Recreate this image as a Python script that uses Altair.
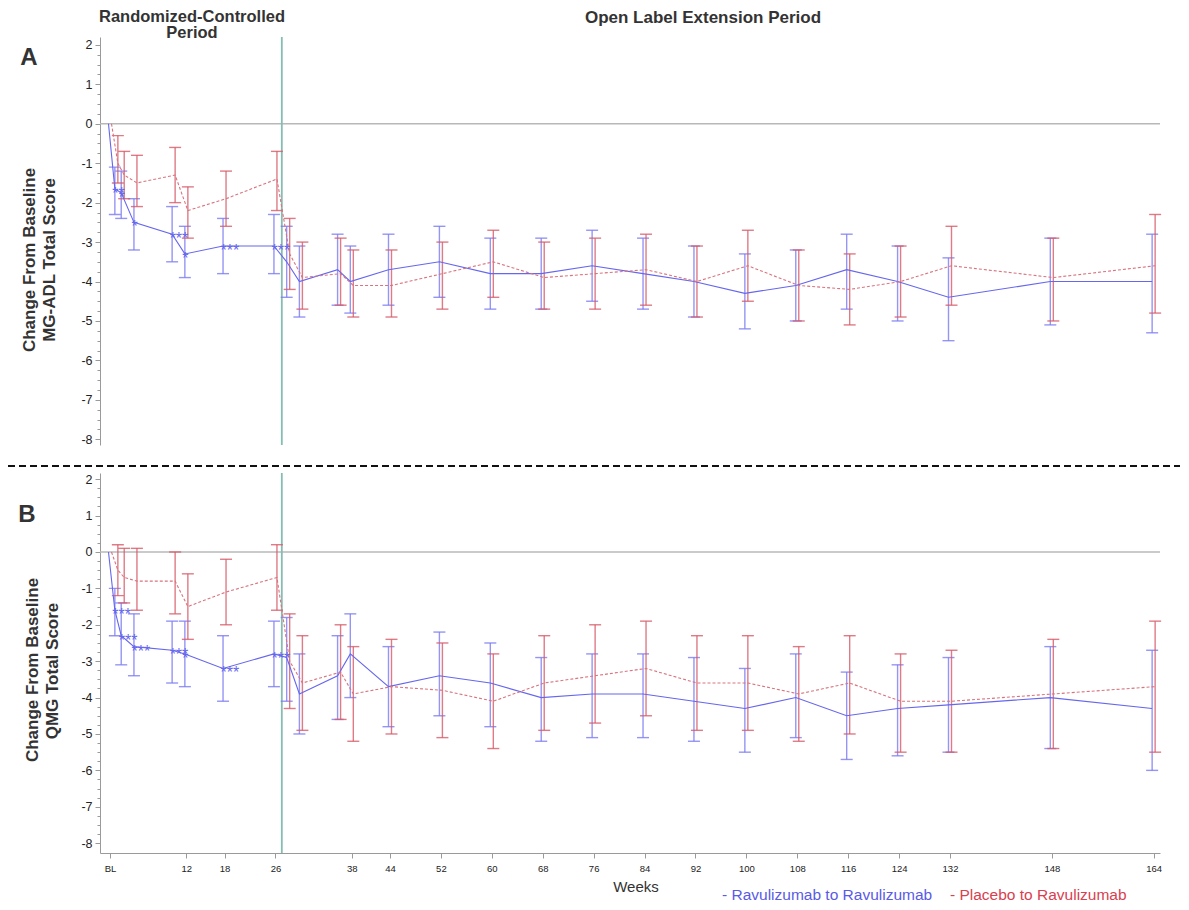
import altair as alt
import pandas as pd

# ---------------- data ----------------
weeks = [0, 1, 2, 4, 10, 12, 18, 26, 28, 30, 36, 38, 44, 52, 60, 68, 76, 84,
         92, 100, 108, 116, 124, 132, 148, 164]
bar_weeks = weeks[1:]
x_ticks = [0, 12, 18, 26, 38, 44, 52, 60, 68, 76, 84, 92, 100, 108, 116, 124,
           132, 148, 164]

# Panel A: MG-ADL
a_rav_mean = [0, -1.65, -1.75, -2.5, -2.8, -3.3, -3.1, -3.1, -3.5, -4.0, -3.7, -4.0,
              -3.7, -3.5, -3.8, -3.8, -3.6, -3.8, -4.0, -4.3, -4.1, -3.7, -4.0, -4.4,
              -4.0, -4.0]
a_rav_lo = [-2.3, -2.4, -3.2, -3.5, -3.9, -3.8, -3.8, -4.4, -4.9, -4.6, -4.8, -4.6,
            -4.4, -4.7, -4.7, -4.5, -4.7, -4.9, -5.2, -5.0, -4.7, -5.0, -5.5, -5.1, -5.3]
a_rav_hi = [-1.1, -1.2, -1.9, -2.1, -2.6, -2.4, -2.3, -2.6, -3.1, -2.8, -3.1, -2.8,
            -2.6, -2.9, -2.9, -2.7, -2.9, -3.1, -3.3, -3.2, -2.8, -3.1, -3.4, -2.9, -2.8]
a_pla_mean = [0, -1.0, -1.3, -1.5, -1.3, -2.2, -1.9, -1.4, -3.3, -3.9, -3.8, -4.1,
              -4.1, -3.8, -3.5, -3.9, -3.8, -3.7, -4.0, -3.6, -4.1, -4.2, -4.0, -3.6,
              -3.9, -3.6]
a_pla_lo = [-1.5, -1.9, -2.1, -2.0, -2.9, -2.6, -2.2, -4.2, -4.7, -4.6, -4.9, -4.9,
            -4.7, -4.4, -4.7, -4.7, -4.6, -4.9, -4.5, -5.0, -5.1, -4.9, -4.6, -5.0, -4.8]
a_pla_hi = [-0.3, -0.7, -0.8, -0.6, -1.6, -1.2, -0.7, -2.4, -3.0, -2.9, -3.2, -3.2,
            -3.0, -2.7, -3.0, -2.9, -2.8, -3.1, -2.7, -3.2, -3.3, -3.1, -2.6, -2.9, -2.3]

# Panel B: QMG
b_rav_mean = [0, -1.6, -2.3, -2.6, -2.7, -2.8, -3.2, -2.8, -2.9, -3.9, -3.4, -2.8,
              -3.7, -3.4, -3.6, -4.0, -3.9, -3.9, -4.1, -4.3, -4.0, -4.5, -4.3, -4.2,
              -4.0, -4.3]
b_rav_lo = [-2.3, -3.1, -3.4, -3.6, -3.7, -4.1, -3.7, -4.1, -5.0, -4.6, -4.0, -4.8,
            -4.5, -4.8, -5.2, -5.1, -5.1, -5.2, -5.5, -5.1, -5.7, -5.6, -5.5, -5.4, -6.0]
b_rav_hi = [-1.0, -1.4, -1.7, -1.9, -1.9, -2.3, -1.9, -1.8, -2.8, -2.3, -1.7, -2.6,
            -2.2, -2.5, -2.9, -2.8, -2.8, -2.9, -3.2, -2.8, -3.3, -3.1, -2.9, -2.6, -2.7]
b_pla_mean = [0, -0.5, -0.7, -0.8, -0.8, -1.5, -1.1, -0.7, -3.0, -3.6, -3.3, -3.9,
              -3.7, -3.8, -4.1, -3.6, -3.4, -3.2, -3.6, -3.6, -3.9, -3.6, -4.1, -4.1,
              -3.9, -3.7]
b_pla_lo = [-1.2, -1.4, -1.6, -1.7, -2.4, -2.0, -1.6, -4.3, -4.9, -4.6, -5.2, -5.0,
            -5.1, -5.4, -4.9, -4.7, -4.5, -4.9, -4.9, -5.2, -5.0, -5.5, -5.5, -5.4, -5.5]
b_pla_hi = [0.2, 0.1, 0.1, 0.0, -0.6, -0.2, 0.2, -1.7, -2.3, -2.0, -2.6, -2.4,
            -2.5, -2.8, -2.3, -2.0, -1.9, -2.3, -2.3, -2.6, -2.3, -2.8, -2.7, -2.4, -1.9]

# significance markers next to Ravulizumab points in the randomized period
sig_weeks = [1, 2, 4, 10, 12, 18, 26]
a_sig = ["**", "*", "*", "***", "*", "***", "***"]
b_sig = ["***", "***", "***", "***", "*", "***", "***"]

rc_end_week = 27
y_major = [-8, -7, -6, -5, -4, -3, -2, -1, 0, 1, 2]
y_minor = [-8 + 0.25 * i for i in range(41) if i % 4 != 0]

# ---------------- styling ----------------
W, H = 1060, 816
BLUE = "#6666ee"
BLUE_BAR = "#7a7af2"
RED = "#d8747e"
RED_BAR = "#d65a68"
TEAL = "#86bdb2"
TXT = "#333333"
AX = "#9a9a9a"
FONT = "Liberation Sans"

xs = alt.Scale(domain=[-1.57, 165.0], nice=False, zero=False)
ys_a = alt.Scale(domain=[-8.145, 2.2], range=[408, 0], nice=False, zero=False)
ys_b = alt.Scale(domain=[-8.27, 2.17], range=[816, 436], nice=False, zero=False)

xax = alt.Axis(values=x_ticks, labelExpr="datum.value === 0 ? 'BL' : datum.label",
               title=None, grid=False, tickSize=5, domainColor=AX,
               tickColor=AX, labelColor="#222222", labelFontSize=9.5,
               labelFont=FONT, labelPadding=5, labelFlush=False, labelOverlap=False)


def X():
    return alt.X("w:Q", scale=xs, axis=xax)


def panel(rav_mean, rav_lo, rav_hi, pla_mean, pla_lo, pla_hi, sig, ys):
    line_r = pd.DataFrame({"w": weeks, "m": rav_mean})
    line_p = pd.DataFrame({"w": weeks, "m": pla_mean})
    bar_r = pd.DataFrame({"w": bar_weeks, "lo": rav_lo, "hi": rav_hi})
    bar_p = pd.DataFrame({"w": bar_weeks, "lo": pla_lo, "hi": pla_hi})
    sig_df = pd.DataFrame({"w": sig_weeks,
                           "m": [rav_mean[weeks.index(w)] for w in sig_weeks],
                           "s": sig})
    dom = ys.domain
    frame = pd.DataFrame({"w": [rc_end_week], "top": [dom[1]], "bot": [dom[0]], "z": [0]})

    Y = lambda f: alt.Y(f, scale=ys, axis=None)

    major_axis = alt.Axis(values=y_major, labelExpr="'' + datum.value", orient="left",
                          title=None, grid=False, tickSize=5, domainColor=AX,
                          tickColor=AX, labelColor="#222222", labelFontSize=12.5,
                          labelFont=FONT, labelPadding=3, labelOverlap=False,
                          labelFlush=False)
    minor_axis = alt.Axis(values=y_minor, labels=False, orient="left", title=None,
                          grid=False, tickSize=3, domain=False, tickColor=AX)

    layers = []
    # zero reference line (carries the y axis)
    layers.append(
        alt.Chart(frame).mark_rule(color="#b8b8b8", strokeWidth=1.3).encode(
            y=alt.Y("z:Q", scale=ys, axis=major_axis), x=alt.value(0), x2=alt.value(W))
    )
    layers.append(
        alt.Chart(frame).mark_point(opacity=0).encode(
            y=alt.Y("z:Q", scale=ys, axis=minor_axis), x=alt.value(0))
    )
    # end of randomized period
    layers.append(
        alt.Chart(frame).mark_rule(color=TEAL, strokeWidth=1.8).encode(
            x=X(), y=Y("top:Q"), y2="bot:Q")
    )
    for bars, color, off in [(bar_r, BLUE_BAR, -1.5), (bar_p, RED_BAR, 1.5)]:
        layers.append(alt.Chart(bars).mark_rule(color=color, strokeWidth=1.4, opacity=0.8,
                                                xOffset=off).encode(
            x=X(), y=Y("lo:Q"), y2="hi:Q"))
        for f in ["lo:Q", "hi:Q"]:
            layers.append(alt.Chart(bars).mark_tick(color=color, orient="horizontal", size=12,
                                                    thickness=1.4, opacity=0.8,
                                                    xOffset=off).encode(
                x=X(), y=Y(f)))
    layers.append(alt.Chart(line_r).mark_line(color=BLUE, strokeWidth=1.1, xOffset=-1.5).encode(
        x=X(), y=Y("m:Q")))
    layers.append(alt.Chart(line_p).mark_line(color=RED, strokeWidth=1.1, strokeDash=[3, 2],
                                              xOffset=1.5).encode(
        x=X(), y=Y("m:Q")))
    layers.append(alt.Chart(sig_df).mark_text(color=BLUE, align="left", baseline="middle",
                                              fontSize=16, dx=-4, dy=5,
                                              font=FONT).encode(
        x=X(), y=Y("m:Q"), text="s:N"))
    return layers


lA = panel(a_rav_mean, a_rav_lo, a_rav_hi, a_pla_mean, a_pla_lo, a_pla_hi, a_sig, ys_a)
lB = panel(b_rav_mean, b_rav_lo, b_rav_hi, b_pla_mean, b_pla_lo, b_pla_hi, b_sig, ys_b)


def txt(text, x, y, size=14, bold=False, color=TXT, align="center", angle=0,
        baseline="middle"):
    kw = dict(fontSize=size, font=FONT, color=color, align=align, baseline=baseline)
    if bold:
        kw["fontWeight"] = "bold"
    if angle:
        kw["angle"] = angle
    return alt.Chart(pd.DataFrame({"t": [text]})).mark_text(**kw).encode(
        x=alt.value(x), y=alt.value(y), text="t:N")


sep = alt.Chart(pd.DataFrame({"a": [0]})).mark_rule(
    color="#111111", strokeWidth=2, strokeDash=[7, 4]).encode(
    x=alt.value(-92), x2=alt.value(1085), y=alt.value(429))

annots = [
    sep,
    txt("Randomized-Controlled", 92, -20, 16.5, True),
    txt("Period", 92, -4, 16.5, True),
    txt("Open Label Extension Period", 603, -19, 17, True),
    txt("A", -71, 21, 24, True),
    txt("B", -73, 478, 24, True),
    txt("Change From Baseline", -70, 223, 17, True, angle=270),
    txt("MG-ADL Total Score", -50, 223, 17, True, angle=270),
    txt("Change From Baseline", -67, 633, 17, True, angle=270),
    txt("QMG Total Score", -47, 634, 17, True, angle=270),
    txt("Weeks", 536, 850, 15),
    txt("- Ravulizumab to Ravulizumab", 622, 863, 15.5, color="#5a5ae6", align="left",
        baseline="alphabetic"),
    txt("- Placebo to Ravulizumab", 850, 863, 15.5, color="#d9404f", align="left",
        baseline="alphabetic"),
]

chart = alt.layer(*lA, *lB, *annots).resolve_scale(y="independent").properties(
    width=W, height=H,
    padding={"left": 92, "top": 29, "right": 20, "bottom": 49},
    autosize=alt.AutoSizeParams(type="none"),
).configure_view(stroke=None)

chart.save("out.html", embed_options={"renderer": "svg", "actions": False})
